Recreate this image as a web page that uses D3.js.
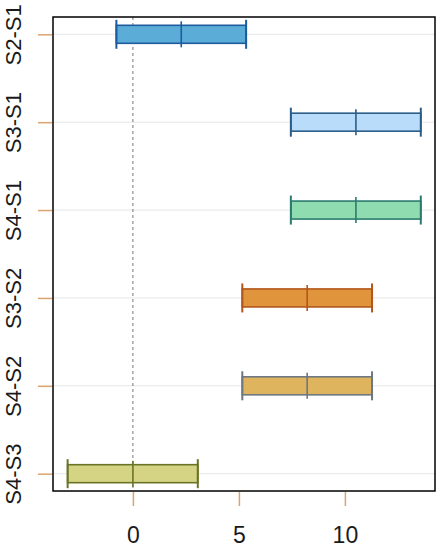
<!DOCTYPE html>
<html>
<head>
<meta charset="utf-8">
<script src="https://cdn.jsdelivr.net/npm/d3@7"></script>
<style>
  html, body { margin: 0; padding: 0; background: #fff; }
  svg { display: block; }
</style>
</head>
<body>
<svg id="chart" width="439" height="551"></svg>
<script>
const categories = ["S2-S1", "S3-S1", "S4-S1", "S3-S2", "S4-S2", "S4-S3"];
const estimates = [2.28, 10.52, 10.52, 8.22, 8.22, 0.0];
const lowers = [-0.78, 7.45, 7.45, 5.16, 5.16, -3.08];
const uppers = [5.34, 13.58, 13.58, 11.28, 11.28, 3.06];
const xTicks = [0, 5, 10];
const fills = ["#5badd8", "#b8dcfa", "#8edcb0", "#e0943c", "#dfb45e", "#d4d484"];
const strokes = ["#1e5a9e", "#2b5d88", "#2b7b6f", "#b2561c", "#6e7682", "#6a7426"];

const svg = d3.select("#chart");
const L = 53, R = 435, T = 17, B = 491;

const x = d3.scaleLinear().domain([-3.77, 14.25]).range([L, R]);
const y = d3.scaleLinear().domain([-0.197, categories.length - 1 + 0.197]).range([T, B]);

// grid lines
svg.append("g").selectAll("line").data(categories).join("line")
  .attr("x1", L).attr("x2", R)
  .attr("y1", (d, i) => y(i)).attr("y2", (d, i) => y(i))
  .attr("stroke", "#e6e6e6").attr("stroke-width", 1);

// zero dashed line
svg.append("line")
  .attr("x1", x(0)).attr("x2", x(0)).attr("y1", T).attr("y2", B)
  .attr("stroke", "#777").attr("stroke-width", 1).attr("stroke-dasharray", "3,3");

// bars
const data = categories.map((c, i) => ({c, i, est: estimates[i], lo: lowers[i], hi: uppers[i], fill: fills[i], stroke: strokes[i]}));
const g = svg.append("g").selectAll("g").data(data).join("g");
g.append("rect")
  .attr("x", d => x(d.lo)).attr("width", d => x(d.hi) - x(d.lo))
  .attr("y", d => y(d.i) - 9).attr("height", 18)
  .attr("fill", d => d.fill).attr("stroke", d => d.stroke).attr("stroke-width", 1.6);
g.append("line")
  .attr("x1", d => x(d.lo)).attr("x2", d => x(d.lo))
  .attr("y1", d => y(d.i) - 14.5).attr("y2", d => y(d.i) + 14.5)
  .attr("stroke", d => d.stroke).attr("stroke-width", 2);
g.append("line")
  .attr("x1", d => x(d.hi)).attr("x2", d => x(d.hi))
  .attr("y1", d => y(d.i) - 14.5).attr("y2", d => y(d.i) + 14.5)
  .attr("stroke", d => d.stroke).attr("stroke-width", 2);
g.append("line")
  .attr("x1", d => x(d.est)).attr("x2", d => x(d.est))
  .attr("y1", d => y(d.i) - 13).attr("y2", d => y(d.i) + 13)
  .attr("stroke", d => d.stroke).attr("stroke-width", 1.6);

// frame
svg.append("rect").attr("x", L).attr("y", T).attr("width", R - L).attr("height", B - T)
  .attr("fill", "none").attr("stroke", "#000").attr("stroke-width", 1.5);

// x axis
const xAxis = svg.append("g").attr("transform", `translate(0,${B + 1})`)
  .call(d3.axisBottom(x).tickValues(xTicks).tickSize(14).tickPadding(21).tickFormat(d3.format("d")));
xAxis.select(".domain").remove();
xAxis.selectAll(".tick line").attr("stroke", "#dba46c").attr("stroke-width", 1.5);
xAxis.selectAll(".tick text").attr("font-family", "Liberation Sans, Arial, sans-serif")
  .attr("font-size", 23).attr("fill", "#1a1a1a");

// y axis
const yAxis = svg.append("g").attr("transform", `translate(${L - 1},0)`)
  .call(d3.axisLeft(y).tickValues(d3.range(categories.length)).tickSize(14).tickFormat(i => categories[i]));
yAxis.select(".domain").remove();
yAxis.selectAll(".tick line").attr("stroke", "#dba46c").attr("stroke-width", 1.5);
yAxis.selectAll(".tick text")
  .attr("font-family", "Liberation Sans, Arial, sans-serif")
  .attr("font-size", 22).attr("fill", "#1a1a1a")
  .attr("text-anchor", "middle")
  .attr("dy", 0)
  .attr("x", 0)
  .attr("transform", `translate(${20.5 - (L - 1)},0) rotate(-90)`);
</script>
</body>
</html>
